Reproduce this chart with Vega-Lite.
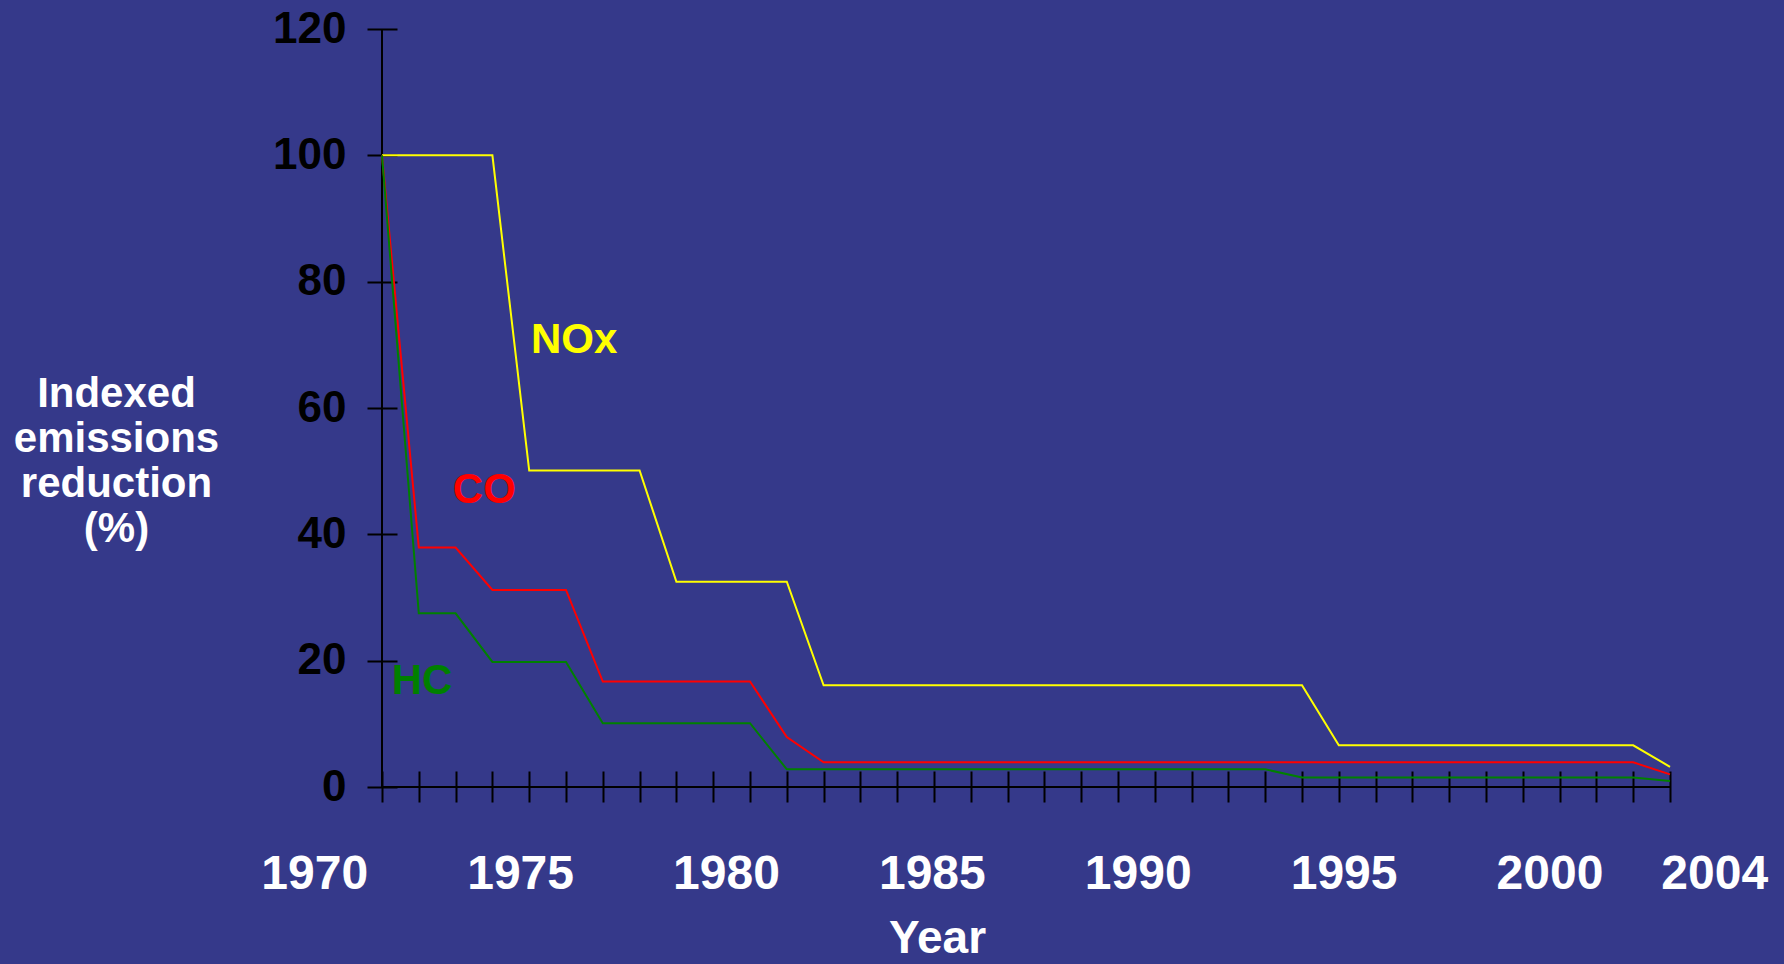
{
  "$schema": "https://vega.github.io/schema/vega-lite/v6.json",
  "autosize": {"type": "none"},
  "width": 1288,
  "height": 758,
  "padding": {"left": 382, "top": 29, "right": 114, "bottom": 177},
  "background": "#35398a",
  "config": {
    "view": {"stroke": null},
    "font": "Liberation Sans",
    "text": {"font": "Liberation Sans", "fontWeight": "bold"}
  },
  "datasets": {
    "emissions": [
      {"pollutant": "NOx", "step": 0, "value": 100}, {"pollutant": "NOx", "step": 1, "value": 100},
      {"pollutant": "NOx", "step": 2, "value": 100}, {"pollutant": "NOx", "step": 3, "value": 100},
      {"pollutant": "NOx", "step": 4, "value": 50.1}, {"pollutant": "NOx", "step": 5, "value": 50.1},
      {"pollutant": "NOx", "step": 6, "value": 50.1}, {"pollutant": "NOx", "step": 7, "value": 50.1},
      {"pollutant": "NOx", "step": 8, "value": 32.5}, {"pollutant": "NOx", "step": 9, "value": 32.5},
      {"pollutant": "NOx", "step": 10, "value": 32.5}, {"pollutant": "NOx", "step": 11, "value": 32.5},
      {"pollutant": "NOx", "step": 12, "value": 16.1}, {"pollutant": "NOx", "step": 13, "value": 16.1},
      {"pollutant": "NOx", "step": 14, "value": 16.1}, {"pollutant": "NOx", "step": 15, "value": 16.1},
      {"pollutant": "NOx", "step": 16, "value": 16.1}, {"pollutant": "NOx", "step": 17, "value": 16.1},
      {"pollutant": "NOx", "step": 18, "value": 16.1}, {"pollutant": "NOx", "step": 19, "value": 16.1},
      {"pollutant": "NOx", "step": 20, "value": 16.1}, {"pollutant": "NOx", "step": 21, "value": 16.1},
      {"pollutant": "NOx", "step": 22, "value": 16.1}, {"pollutant": "NOx", "step": 23, "value": 16.1},
      {"pollutant": "NOx", "step": 24, "value": 16.1}, {"pollutant": "NOx", "step": 25, "value": 16.1},
      {"pollutant": "NOx", "step": 26, "value": 6.6}, {"pollutant": "NOx", "step": 27, "value": 6.6},
      {"pollutant": "NOx", "step": 28, "value": 6.6}, {"pollutant": "NOx", "step": 29, "value": 6.6},
      {"pollutant": "NOx", "step": 30, "value": 6.6}, {"pollutant": "NOx", "step": 31, "value": 6.6},
      {"pollutant": "NOx", "step": 32, "value": 6.6}, {"pollutant": "NOx", "step": 33, "value": 6.6},
      {"pollutant": "NOx", "step": 34, "value": 6.6}, {"pollutant": "NOx", "step": 35, "value": 3.2},

      {"pollutant": "CO", "step": 0, "value": 100}, {"pollutant": "CO", "step": 1, "value": 37.9},
      {"pollutant": "CO", "step": 2, "value": 37.9}, {"pollutant": "CO", "step": 3, "value": 31.2},
      {"pollutant": "CO", "step": 4, "value": 31.2}, {"pollutant": "CO", "step": 5, "value": 31.2},
      {"pollutant": "CO", "step": 6, "value": 16.7}, {"pollutant": "CO", "step": 7, "value": 16.7},
      {"pollutant": "CO", "step": 8, "value": 16.7}, {"pollutant": "CO", "step": 9, "value": 16.7},
      {"pollutant": "CO", "step": 10, "value": 16.7}, {"pollutant": "CO", "step": 11, "value": 7.9},
      {"pollutant": "CO", "step": 12, "value": 3.9}, {"pollutant": "CO", "step": 13, "value": 3.9},
      {"pollutant": "CO", "step": 14, "value": 3.9}, {"pollutant": "CO", "step": 15, "value": 3.9},
      {"pollutant": "CO", "step": 16, "value": 3.9}, {"pollutant": "CO", "step": 17, "value": 3.9},
      {"pollutant": "CO", "step": 18, "value": 3.9}, {"pollutant": "CO", "step": 19, "value": 3.9},
      {"pollutant": "CO", "step": 20, "value": 3.9}, {"pollutant": "CO", "step": 21, "value": 3.9},
      {"pollutant": "CO", "step": 22, "value": 3.9}, {"pollutant": "CO", "step": 23, "value": 3.9},
      {"pollutant": "CO", "step": 24, "value": 3.9}, {"pollutant": "CO", "step": 25, "value": 3.9},
      {"pollutant": "CO", "step": 26, "value": 3.9}, {"pollutant": "CO", "step": 27, "value": 3.9},
      {"pollutant": "CO", "step": 28, "value": 3.9}, {"pollutant": "CO", "step": 29, "value": 3.9},
      {"pollutant": "CO", "step": 30, "value": 3.9}, {"pollutant": "CO", "step": 31, "value": 3.9},
      {"pollutant": "CO", "step": 32, "value": 3.9}, {"pollutant": "CO", "step": 33, "value": 3.9},
      {"pollutant": "CO", "step": 34, "value": 3.9}, {"pollutant": "CO", "step": 35, "value": 2.0},

      {"pollutant": "HC", "step": 0, "value": 100}, {"pollutant": "HC", "step": 1, "value": 27.5},
      {"pollutant": "HC", "step": 2, "value": 27.5}, {"pollutant": "HC", "step": 3, "value": 19.8},
      {"pollutant": "HC", "step": 4, "value": 19.8}, {"pollutant": "HC", "step": 5, "value": 19.8},
      {"pollutant": "HC", "step": 6, "value": 10.1}, {"pollutant": "HC", "step": 7, "value": 10.1},
      {"pollutant": "HC", "step": 8, "value": 10.1}, {"pollutant": "HC", "step": 9, "value": 10.1},
      {"pollutant": "HC", "step": 10, "value": 10.1}, {"pollutant": "HC", "step": 11, "value": 2.8},
      {"pollutant": "HC", "step": 12, "value": 2.8}, {"pollutant": "HC", "step": 13, "value": 2.8},
      {"pollutant": "HC", "step": 14, "value": 2.8}, {"pollutant": "HC", "step": 15, "value": 2.8},
      {"pollutant": "HC", "step": 16, "value": 2.8}, {"pollutant": "HC", "step": 17, "value": 2.8},
      {"pollutant": "HC", "step": 18, "value": 2.8}, {"pollutant": "HC", "step": 19, "value": 2.8},
      {"pollutant": "HC", "step": 20, "value": 2.8}, {"pollutant": "HC", "step": 21, "value": 2.8},
      {"pollutant": "HC", "step": 22, "value": 2.8}, {"pollutant": "HC", "step": 23, "value": 2.8},
      {"pollutant": "HC", "step": 24, "value": 2.8}, {"pollutant": "HC", "step": 25, "value": 1.5},
      {"pollutant": "HC", "step": 26, "value": 1.5}, {"pollutant": "HC", "step": 27, "value": 1.5},
      {"pollutant": "HC", "step": 28, "value": 1.5}, {"pollutant": "HC", "step": 29, "value": 1.5},
      {"pollutant": "HC", "step": 30, "value": 1.5}, {"pollutant": "HC", "step": 31, "value": 1.5},
      {"pollutant": "HC", "step": 32, "value": 1.5}, {"pollutant": "HC", "step": 33, "value": 1.5},
      {"pollutant": "HC", "step": 34, "value": 1.5}, {"pollutant": "HC", "step": 35, "value": 0.95}
    ],
    "seriesLabels": [
      {"pollutant": "NOx", "step": 5.22, "value": 68.7},
      {"pollutant": "CO", "step": 2.78, "value": 44.9},
      {"pollutant": "HC", "step": 1.09, "value": 14.7}
    ],
    "years": [
      {"year": 1970, "label": "1970"}, {"year": 1975, "label": "1975"},
      {"year": 1980, "label": "1980"}, {"year": 1985, "label": "1985"},
      {"year": 1990, "label": "1990"}, {"year": 1995, "label": "1995"},
      {"year": 2000, "label": "2000"}, {"year": 2004, "label": "2004"}
    ]
  },
  "resolve": {"scale": {"x": "independent"}, "axis": {"x": "independent"}},
  "layer": [
    {
      "layer": [
        {
          "data": {"values": [{}]},
          "mark": {"type": "rule", "color": "black", "strokeWidth": 2},
          "encoding": {
            "x": {"datum": 0, "type": "quantitative"},
            "y": {"datum": 0, "type": "quantitative"},
            "y2": {"datum": 120}
          }
        },
        {
          "data": {"values": [{}]},
          "mark": {"type": "rule", "color": "black", "strokeWidth": 2},
          "encoding": {
            "x": {"datum": 0, "type": "quantitative"},
            "x2": {"datum": 35},
            "y": {"datum": 0, "type": "quantitative"}
          }
        },
        {
          "data": {"name": "emissions"},
          "mark": {"type": "line", "strokeWidth": 2},
          "encoding": {
            "x": {
              "field": "step",
              "type": "quantitative",
              "scale": {"domain": [0, 35], "nice": false, "zero": false},
              "axis": {
                "orient": "bottom",
                "values": [0,1,2,3,4,5,6,7,8,9,10,11,12,13,14,15,16,17,18,19,20,21,22,23,24,25,26,27,28,29,30,31,32,33,34,35],
                "tickCount": 40,
                "labels": false,
                "domain": false,
                "grid": false,
                "ticks": true,
                "tickSize": 31,
                "tickWidth": 2,
                "tickColor": "black",
                "offset": -16,
                "title": "Year",
                "titleFont": "Liberation Sans",
                "titleFontWeight": "bold",
                "titleFontSize": 46,
                "titleColor": "white",
                "titleAlign": "center",
                "titleBaseline": "alphabetic",
                "titleX": 555,
                "titleY": 181
              }
            },
            "y": {
              "field": "value",
              "type": "quantitative",
              "scale": {"domain": [0, 120], "nice": false},
              "axis": {
                "orient": "left",
                "values": [0, 20, 40, 60, 80, 100, 120],
                "tickCount": 7,
                "domain": false,
                "grid": false,
                "tickSize": 30,
                "tickWidth": 2,
                "tickColor": "black",
                "offset": -15,
                "labelPadding": 21,
                "labelFont": "Liberation Sans",
                "labelFontWeight": "bold",
                "labelFontSize": 44,
                "labelColor": "black",
                "title": ["Indexed", "emissions", "reduction", "(%)"],
                "titleFont": "Liberation Sans",
                "titleFontWeight": "bold",
                "titleFontSize": 42,
                "titleLineHeight": 45,
                "titleColor": "white",
                "titleAngle": 0,
                "titleAlign": "center",
                "titleBaseline": "alphabetic",
                "titleX": -281,
                "titleY": 377
              }
            },
            "color": {
              "field": "pollutant",
              "type": "nominal",
              "scale": {"domain": ["NOx", "CO", "HC"], "range": ["#ffff00", "#ff0000", "#008000"]},
              "legend": null
            },
            "order": {"field": "step", "type": "quantitative"}
          }
        },
        {
          "data": {"name": "seriesLabels"},
          "mark": {"type": "text", "fontSize": 42, "align": "center", "baseline": "alphabetic"},
          "encoding": {
            "x": {"field": "step", "type": "quantitative"},
            "y": {"field": "value", "type": "quantitative"},
            "text": {"field": "pollutant"},
            "color": {"field": "pollutant", "type": "nominal", "legend": null}
          }
        },
        {
          "mark": {"type": "text", "fontSize": 42, "align": "left", "baseline": "alphabetic", "color": "white"},
          "encoding": {
            "x": {"datum": 17.49, "type": "quantitative"},
            "y": {"datum": 50.7, "type": "quantitative"},
            "text": {"value": "NB. California more severe"}
          }
        }
      ]
    },
    {
      "data": {"name": "years"},
      "mark": {"type": "text", "fontSize": 48, "align": "center", "baseline": "alphabetic", "color": "white", "dy": 102},
      "encoding": {
        "x": {
          "field": "year",
          "type": "quantitative",
          "scale": {"domain": [1970, 2004], "range": [-67.3, 1332.7], "nice": false, "zero": false},
          "axis": null
        },
        "y": {"value": "height"},
        "text": {"field": "label"}
      }
    }
  ]
}
